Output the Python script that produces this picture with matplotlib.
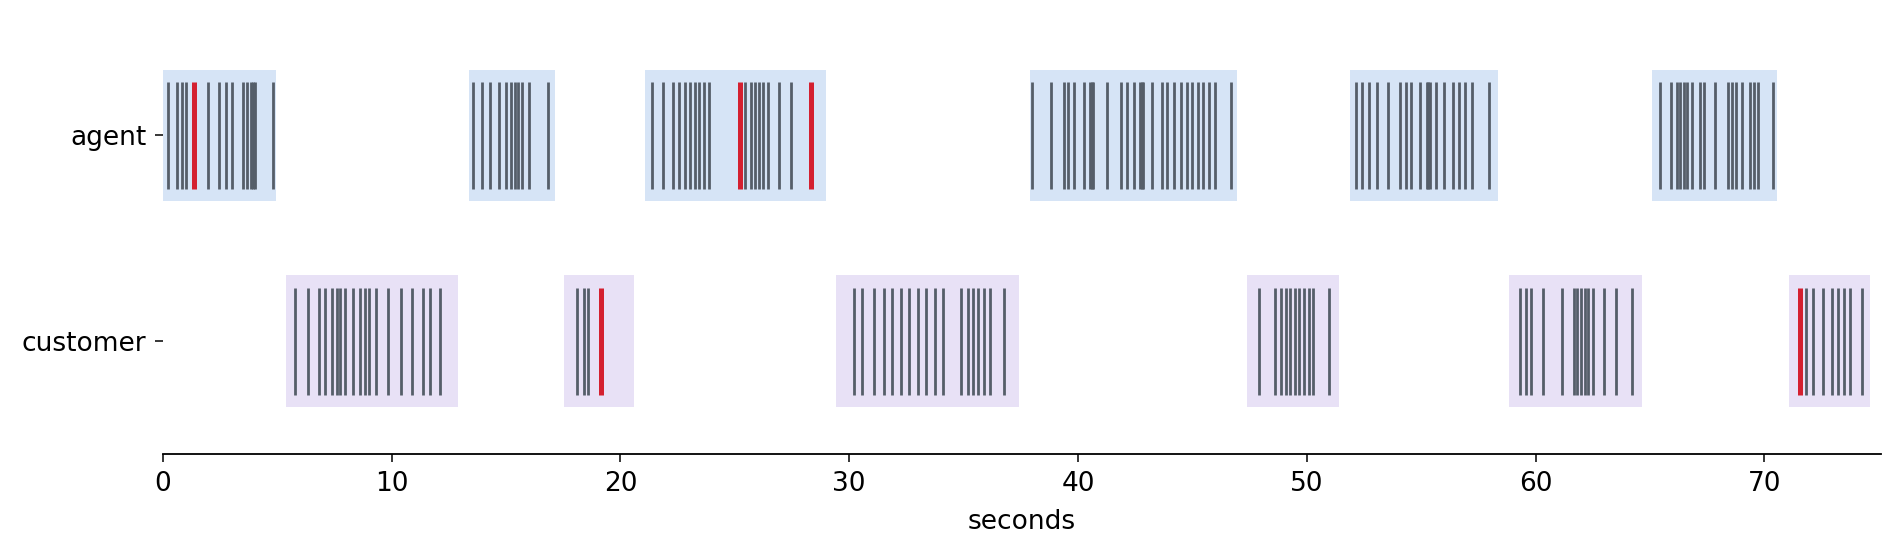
import matplotlib
matplotlib.use("Agg")
import matplotlib.pyplot as plt

agent_ticks = [0.23,0.60,0.82,1.03,1.98,2.46,2.77,3.04,3.51,3.67,3.83,3.94,4.04,4.79,
    13.57,13.94,14.31,14.68,15.0,15.21,15.37,15.53,15.69,16.0,16.85,
    21.40,21.88,22.30,22.57,22.83,23.04,23.26,23.42,23.63,23.89,25.43,25.69,25.90,26.06,26.22,26.43,26.91,27.44,
    37.99,38.82,39.38,39.57,39.83,40.27,40.52,40.60,40.66,41.27,41.88,42.15,42.45,42.70,42.78,42.85,43.24,43.67,43.90,44.20,44.51,44.75,44.99,45.25,45.45,45.73,46.00,46.71,
    52.16,52.43,52.72,53.07,53.55,54.08,54.33,54.56,54.95,55.24,55.30,55.37,55.65,56.0,56.39,56.66,56.92,57.22,57.97,
    65.43,65.91,66.18,66.33,66.48,66.61,66.86,67.18,67.35,67.83,68.40,68.57,68.75,69.04,69.36,69.55,69.72,70.38]
agent_red = [1.35, 25.22, 28.34]
agent_spans = [(0.0,4.94),(13.36,17.12),(21.09,28.97),(37.89,46.93),(51.89,58.38),(65.11,70.57)]

customer_ticks = [5.78,6.35,6.83,7.09,7.39,7.63,7.73,7.98,8.32,8.63,8.84,9.01,9.32,9.86,10.41,10.90,11.35,11.69,12.09,
    18.10,18.40,18.58,
    30.19,30.56,31.09,31.52,31.89,32.26,32.63,33.0,33.37,33.74,34.11,34.9,35.17,35.43,35.64,35.91,36.17,36.75,
    47.92,48.61,48.88,49.08,49.28,49.47,49.66,49.90,50.11,50.28,50.98,
    59.32,59.59,59.80,60.33,61.16,61.67,61.81,61.99,62.16,62.29,62.51,62.99,63.52,64.22,
    71.82,72.13,72.57,72.95,73.21,73.47,73.75,74.29]
customer_red = [19.16, 71.56]
customer_spans = [(5.38,12.92),(17.55,20.57),(29.4,37.44),(47.39,51.43),(58.83,64.64),(71.07,74.64)]

rows = ["customer", "agent"]
fig = plt.figure(figsize=(18.99,5.56), dpi=100)
ax = fig.add_axes([0.0858,0.183,0.9047,0.777])

span_colors = {"agent":"#d6e4f6","customer":"#e8e1f6"}
data = {"agent":(agent_ticks,agent_red,agent_spans),"customer":(customer_ticks,customer_red,customer_spans)}
for i, name in enumerate(rows):
    ticks, red, spans = data[name]
    for a, b in spans:
        ax.fill_between([a,b],[i-0.32]*2,[i+0.32]*2,color=span_colors[name],lw=0,zorder=1)
    ax.eventplot(ticks,lineoffsets=i,linelengths=0.52,colors="#555e69",linewidths=2.0,zorder=2)
    ax.eventplot(red,lineoffsets=i,linelengths=0.52,colors="#d42030",linewidths=3.6,zorder=3)

ax.set_xlim(0,75.1)
ax.set_ylim(-0.55,1.55)
ax.set_yticks(range(len(rows)))
ax.set_yticklabels(rows)
ax.set_xticks([0,10,20,30,40,50,60,70])
ax.tick_params(axis="both",labelsize=19,length=6,width=1.1,pad=6)
ax.set_xlabel("seconds",fontsize=19,labelpad=9)
ax.spines["bottom"].set_linewidth(1.3)
for s in ["top","right","left"]:
    ax.spines[s].set_visible(False)
fig.savefig("out.png",dpi=100)
